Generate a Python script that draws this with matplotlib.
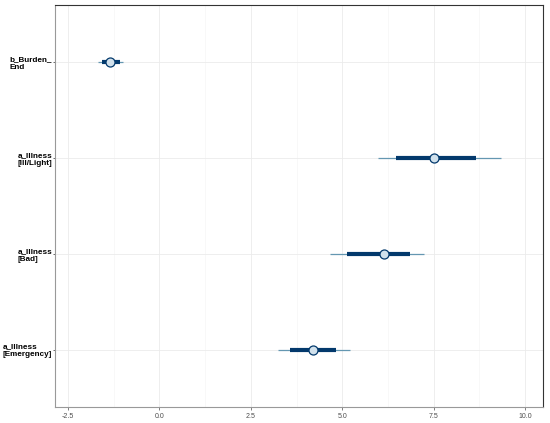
import matplotlib
matplotlib.use("Agg")
import matplotlib.pyplot as plt
from matplotlib.ticker import MultipleLocator

labels = ["b_Burden_\nEnd", "a_Illness\n[Ill/Light]", "a_Illness\n[Bad]", "a_Illness\n[Emergency]"]
est = [-1.34, 7.51, 6.15, 4.21]
inner_lo = [-1.58, 6.48, 5.14, 3.58]
inner_hi = [-1.09, 8.66, 6.86, 4.84]
outer_lo = [-1.69, 5.98, 4.67, 3.25]
outer_hi = [-1.01, 9.34, 7.24, 5.22]
xticks = [-2.5, 0.0, 2.5, 5.0, 7.5, 10.0]

fig = plt.figure(figsize=(5.5, 4.23), dpi=100)
ax = fig.add_axes([54.5/550, 1 - 407/423, (543-54.5)/550, (407-5)/423])
ypos = [4, 3, 2, 1]

ax.set_xlim(-2.87, 10.49)
ax.set_ylim(0.4, 4.6)
ax.xaxis.set_minor_locator(MultipleLocator(1.25))
ax.set_xticks(xticks)
ax.set_xticklabels([f"{v:.1f}" for v in xticks])
ax.set_yticks(ypos)
ax.set_yticklabels(labels)
ax.grid(True, which="major", color="#ebebeb", lw=0.6)
ax.grid(True, which="minor", axis="x", color="#f4f4f4", lw=0.4)
ax.set_axisbelow(True)

for y, e, il, ih, ol, oh in zip(ypos, est, inner_lo, inner_hi, outer_lo, outer_hi):
    ax.plot([ol, oh], [y, y], color="#6497b1", lw=0.9, solid_capstyle="butt", zorder=2)
    ax.plot([il, ih], [y, y], color="#03396c", lw=3.0, solid_capstyle="butt", zorder=3)
    ax.plot([e], [y], marker="o", ms=6.5, mfc="#d1e1ec", mec="#03396c", mew=0.9, zorder=4)

for s in ax.spines.values():
    s.set_color("#333333")
    s.set_linewidth(0.8)
ax.spines["left"].set_color("#999999")
ax.spines["bottom"].set_color("#999999")

ax.tick_params(axis="x", which="major", labelsize=5, colors="#4d4d4d", length=2, width=0.5, pad=2)
ax.tick_params(axis="x", which="minor", length=0)
ax.tick_params(axis="y", labelsize=5.9, length=1.2, width=0.5, colors="#333333", pad=0.5)
for t in ax.get_yticklabels():
    t.set_fontweight("bold")
    t.set_color("black")
    t.set_multialignment("left")
    t.set_fontfamily("Liberation Sans")
    t.set_linespacing(1.15)
for t in ax.get_xticklabels():
    t.set_fontfamily("Liberation Sans")

fig.savefig("out.png", dpi=100)
